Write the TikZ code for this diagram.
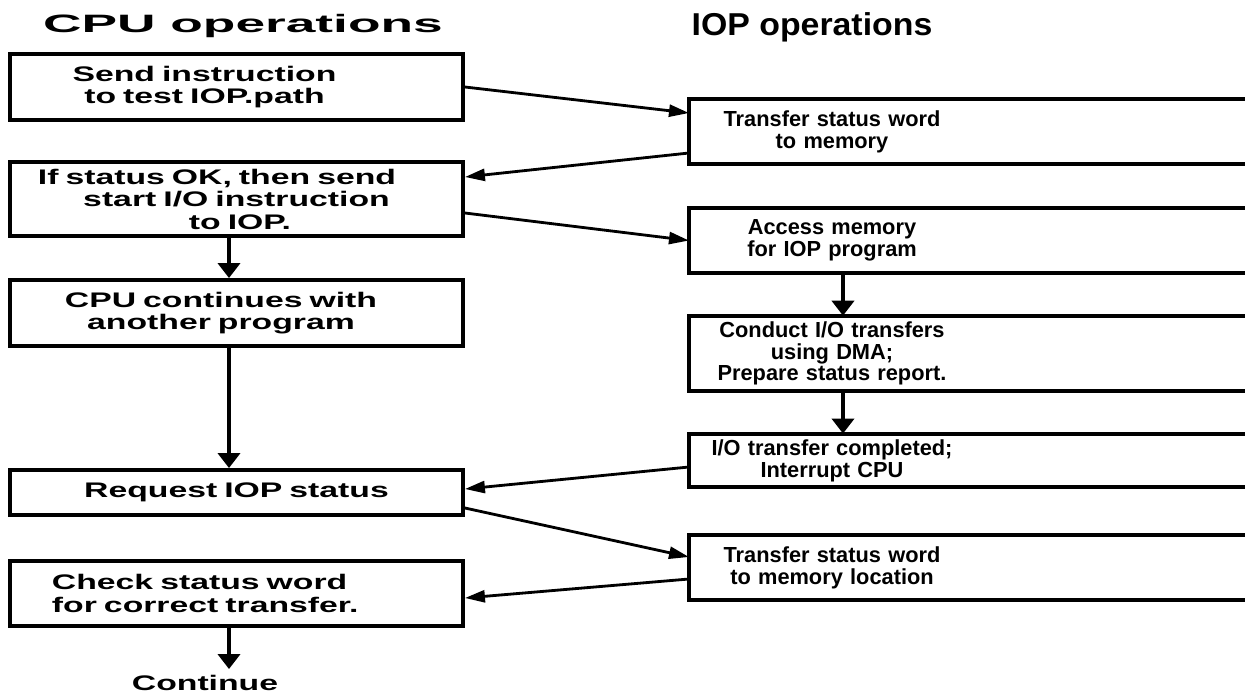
\documentclass[tikz,border=0pt]{standalone}
\usepackage{fontspec}
\setmainfont{Liberation Sans}
\newfontfamily\cpufont{Liberation Sans}[FakeStretch=1.6]
\newfontfamily\cpuhead{Liberation Sans}[FakeStretch=2.12]
\newfontfamily\iophead{Liberation Sans}[FakeStretch=1.07]
\usetikzlibrary{arrows.meta}

\begin{document}
\begin{tikzpicture}[
    cpubox/.style={draw, line width=2.2pt, text width=8.9cm, inner xsep=0.08cm, align=center,
        font=\cpufont\bfseries\fontsize{12pt}{12.8pt}\selectfont},
    iopbox/.style={text width=5.56cm, inner xsep=0.08cm, outer sep=0pt, align=center,
        font=\bfseries\fontsize{12.4pt}{12.4pt}\selectfont},
    frame/.style={line width=2.2pt},
    down/.style={line width=2.2pt, -{Triangle[length=0.3cm,width=0.44cm]}},
    across/.style={line width=1.6pt, -{Triangle[length=0.4cm,width=0.24cm]}}
]
    \useasboundingbox (0,0) rectangle (24.9,-13.88);
    \clip (0,0) rectangle (24.9,-13.88);

    \node[font=\cpuhead\bfseries\fontsize{14.3pt}{16pt}\selectfont] (cputitle) at (4.86,-0.52) {CPU operations};
    \node[font=\iophead\bfseries\fontsize{18pt}{20pt}\selectfont] (ioptitle) at (16.24,-0.54) {IOP operations};

    \node[cpubox, minimum height=1.32cm] (send) at (4.73,-1.74) {\hspace*{-1.28cm}Send instruction\\\hspace*{-1.28cm}to test IOP.path};
    \node[cpubox, minimum height=1.48cm] (ifok) at (4.73,-3.98) {\hspace*{-0.78cm}If status OK, then send\\start I/O instruction\\\hspace*{0.14cm}to IOP.};
    \node[cpubox, minimum height=1.32cm] (cont) at (4.73,-6.26) {\hspace*{-0.62cm}CPU continues with\\\hspace*{-0.62cm}another program};
    \node[cpubox, minimum height=0.9cm] (req) at (4.73,-9.85) {Request IOP status};
    \node[cpubox, minimum height=1.3cm, align=left] (check) at (4.73,-11.87) {\hspace*{0.76cm}Check status word\\\hspace*{0.76cm}for correct transfer.};
    \node[font=\cpufont\bfseries\fontsize{12pt}{12.8pt}\selectfont] (goon) at (4.1,-13.66) {Continue};

    \node[iopbox, minimum height=1.3cm] (xfer) at (16.64,-2.63) {Transfer status word\\to memory};
    \node[iopbox, minimum height=1.3cm] (access) at (16.64,-4.81) {Access memory\\for IOP program};
    \node[iopbox, minimum height=1.5cm] (conduct) at (16.64,-7.07) {Conduct I/O transfers\\using DMA;\\Prepare status report.};
    \node[iopbox, minimum height=1.06cm] (done) at (16.64,-9.21) {I/O transfer completed;\\Interrupt CPU};
    \node[iopbox, minimum height=1.3cm] (store) at (16.64,-11.35) {Transfer status word\\to memory location};
    \foreach \n in {xfer,access,conduct,done,store}
        \draw[frame] (\n.north west) rectangle ([xshift=10cm]\n.south east);

    \draw[down] ([xshift=-0.15cm]ifok.south) -- ([xshift=-0.15cm]cont.north);
    \draw[down] ([xshift=-0.15cm]cont.south) -- ([xshift=-0.15cm]req.north);
    \draw[down] ([xshift=-0.15cm]check.south) -- ([xshift=-0.15cm]check.south |- goon.north);
    \draw[down] ([xshift=0.22cm]access.south) -- ([xshift=0.22cm]conduct.north);
    \draw[down] ([xshift=0.22cm]conduct.south) -- ([xshift=0.22cm]done.north);

    \draw[across] (send.east) -- ([yshift=0.37cm]xfer.west);
    \draw[across] ([yshift=-0.43cm]xfer.west) -- ([yshift=0.44cm]ifok.east);
    \draw[across] ([yshift=-0.28cm]ifok.east) -- (access.west);
    \draw[across] ([yshift=-0.13cm]done.west) -- ([yshift=0.07cm]req.east);
    \draw[across] ([yshift=-0.31cm]req.east) -- ([yshift=0.21cm]store.west);
    \draw[across] ([yshift=-0.23cm]store.west) -- ([yshift=-0.09cm]check.east);
\end{tikzpicture}
\end{document}
